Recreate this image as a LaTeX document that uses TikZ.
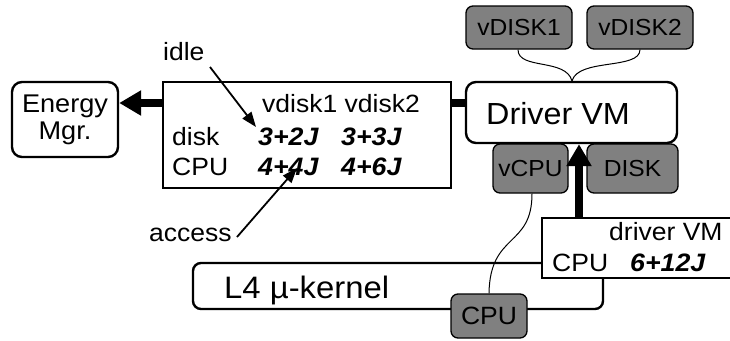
\documentclass[tikz,border=0pt]{standalone}
\usepackage{fontspec}
\setmainfont{Liberation Sans}[FakeStretch=1.06]
\usetikzlibrary{arrows.meta}
\definecolor{boxgray}{RGB}{128,128,128}
\tikzset{
  rbox/.style={draw, line width=2.4pt, rounded corners=10pt, fill=white, inner sep=0pt},
  tbox/.style={draw, line width=1.3pt, fill=white, inner sep=0pt},
  gbox/.style={draw, line width=1.3pt, rounded corners=7pt, fill=boxgray, inner sep=0pt, font=\fontsize{23.2}{27}\selectfont},
  lbl/.style={inner sep=0pt, font=\fontsize{25}{29}\selectfont},
  bi/.style={inner sep=0pt, font=\fontsize{25.2}{29}\selectfont\bfseries\itshape},
  fatarrow/.style={line width=7.5pt, -{Triangle[length=22pt,width=24pt]}},
  fatline/.style={line width=7.5pt},
  thinarrow/.style={line width=1.8pt, -{Triangle[length=15pt,width=11pt]}},
  wire/.style={line width=1pt},
}
\begin{document}
\begin{tikzpicture}[x=1pt,y=-1pt]
\useasboundingbox (0,0) rectangle (730,340);

% Energy manager
\node[rbox, minimum width=106pt, minimum height=75pt, align=center,
      font=\fontsize{25.6}{27}\selectfont] (em) at (65,119.5) {Energy\\Mgr.};

% table
\node[tbox, minimum width=288pt, minimum height=106pt] (tab) at (307,135) {};
\node[lbl, anchor=base west] (hdr) at (262,112) {vdisk1 vdisk2};
\node[lbl, anchor=base west] (rdisk) at (172,145) {disk};
\node[bi, anchor=base west] (v11) at (258,145) {3+2J};
\node[bi, anchor=base west] (v12) at (341,145) {3+3J};
\node[lbl, anchor=base west] (rcpu) at (172,175) {CPU};
\node[bi, anchor=base west] (v21) at (258,175) {4+4J};
\node[bi, anchor=base west] (v22) at (341,175) {4+6J};

% annotations
\node[lbl, anchor=base west] (idle) at (163,60) {idle};
\node[lbl, anchor=base west] (access) at (149,241) {access};
\coordinate (idlefrom) at (210,67);
\coordinate (idleto) at (256,127);
\coordinate (accfrom) at (237,237);
\coordinate (accto) at (297,168);
\draw[thinarrow] (idlefrom) -- (idleto);
\draw[thinarrow] (accfrom) -- (accto);

% Driver VM and its devices
\node[rbox, minimum width=211pt, minimum height=61pt] (dvm) at (571.5,112.5) {};
\node[inner sep=0pt, font=\fontsize{30.5}{33}\selectfont, anchor=base] (dvmtxt) at (558,124) {Driver VM};
\node[gbox, minimum width=106pt, minimum height=43pt] (vd1) at (519,27.5) {vDISK1};
\node[gbox, minimum width=106pt, minimum height=43pt] (vd2) at (640,27.5) {vDISK2};
\node[gbox, minimum width=75pt, minimum height=49pt] (vcpu) at (530.5,168.5) {vCPU};
\node[gbox, minimum width=91pt, minimum height=49pt] (disk) at (632.5,168.5) {DISK};

\coordinate (join) at (572,81);
\draw[wire] (vd1.south) ++(-1,0) .. controls (518,70) and (566,58) .. (join);
\draw[wire] (vd2.south) .. controls (640,70) and (578,58) .. (join);

% kernel
\node[rbox, rounded corners=8pt, minimum width=410pt, minimum height=46pt] (kern) at (398,286) {};
\node[inner sep=0pt, font=\fontsize{31}{34}\selectfont, anchor=base west] (kerntxt) at (224,298) {L4 µ-kernel};

% driver VM table
\node[tbox, minimum width=190pt, minimum height=60pt] (dtab) at (637,248) {};
\node[lbl, anchor=base west] (dtabh) at (609,240) {driver VM};
\node[lbl, anchor=base west] (dtabr) at (552,271) {CPU};
\node[bi, anchor=base west] (dtabv) at (630,271) {6+12J};

% physical CPU
\node[gbox, minimum width=76pt, minimum height=44pt, font=\fontsize{25}{29}\selectfont] (cpu) at (489,316) {CPU};

\draw[wire] (vcpu.south) ++(1.5,0) .. controls (532,248) and (490,232) .. (cpu.north);

% thick connectors
\draw[fatarrow] (tab.west |- 0,103) -- (em.east |- 0,103);
\draw[fatline] (tab.east |- 0,103) -- (dvm.west |- 0,103);
\draw[fatarrow] (dtab.north -| 579,0) -- (dvm.south -| 579,0);
\end{tikzpicture}
\end{document}
